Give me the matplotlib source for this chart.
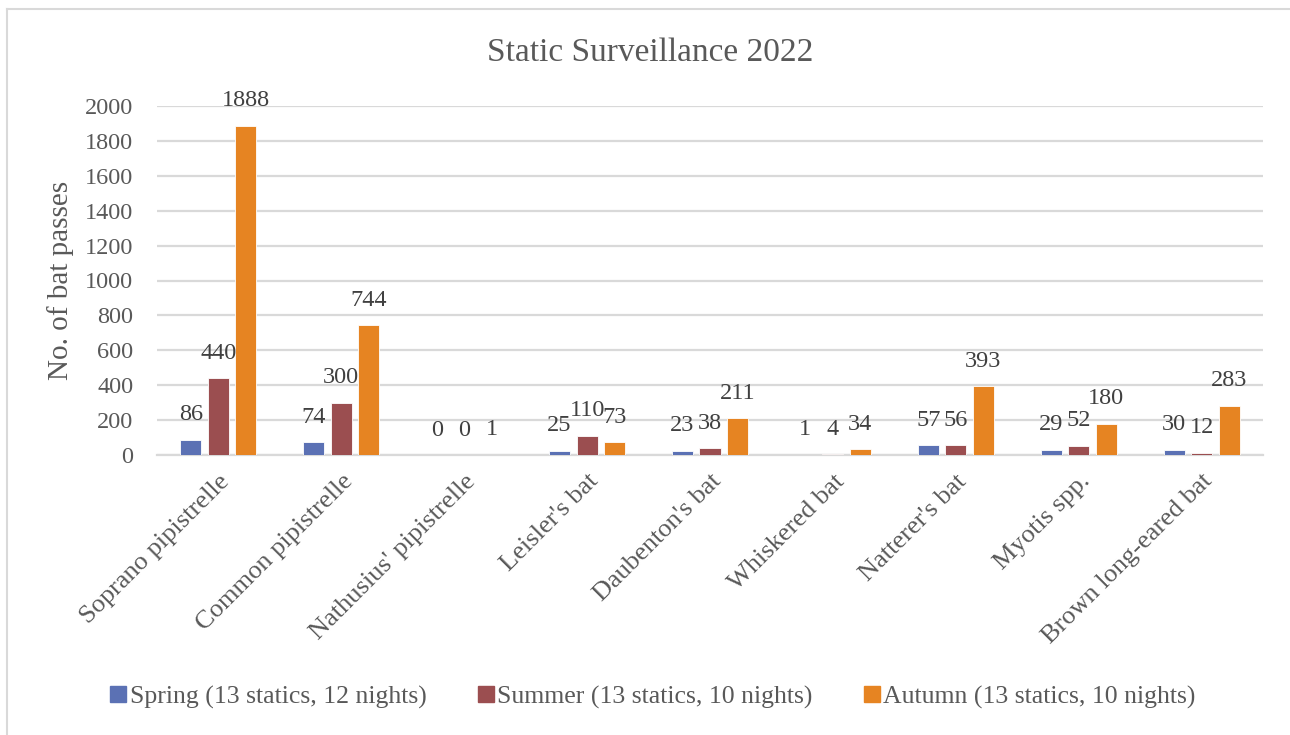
import matplotlib
matplotlib.use("Agg")
import matplotlib.pyplot as plt
from matplotlib.lines import Line2D
import numpy as np

species = ["Soprano pipistrelle", "Common pipistrelle", "Nathusius' pipistrelle",
           "Leisler's bat", "Daubenton's bat", "Whiskered bat", "Natterer's bat",
           "Myotis spp.", "Brown long-eared bat"]
spring = [86, 74, 0, 25, 23, 1, 57, 29, 30]
summer = [440, 300, 0, 110, 38, 4, 56, 52, 12]
autumn = [1888, 744, 1, 73, 211, 34, 393, 180, 283]
series_names = ["Spring (13 statics, 12 nights)",
                "Summer (13 statics, 10 nights)",
                "Autumn (13 statics, 10 nights)"]
y_ticks = list(range(0, 2001, 200))

colors = ["#5B71B4", "#9B4E50", "#E68422"]
text_color = "#595959"
grid_color = "#D9D9D9"
font = "Liberation Serif"

plt.rcParams["font.family"] = [font, "DejaVu Serif"]

fig = plt.figure(figsize=(12.9, 7.35), dpi=100)
ax = fig.add_axes([157 / 1290, 1 - 455 / 735, (1263 - 157) / 1290, (455 - 106) / 735])

x = np.arange(len(species))
bar_w = 0.171
step = 0.224
for k, (vals, col, name) in enumerate(zip([spring, summer, autumn], colors, series_names)):
    pos = x + (k - 1) * step
    ax.bar(pos, vals, width=bar_w, color=col, edgecolor="white", linewidth=0.6,
           label=name, zorder=3)
    for px, v in zip(pos, vals):
        ax.annotate(f"{v}", xy=(px, v), xytext=(0, 18), textcoords="offset points",
                    ha="center", va="center", fontsize=17.5, color="#404040", zorder=4)

ax.set_xlim(-0.5, len(species) - 0.5)
ax.set_ylim(0, 2000)
ax.set_yticks(y_ticks)
ax.set_yticklabels([str(t) for t in y_ticks])
ax.yaxis.grid(True, color=grid_color, linewidth=1.6, zorder=0)
ax.set_axisbelow(True)
for s in ["top", "right", "left"]:
    ax.spines[s].set_visible(False)
ax.spines["bottom"].set_color(grid_color)
ax.spines["bottom"].set_linewidth(1.6)
ax.tick_params(axis="y", length=0, pad=17, labelsize=17.5, labelcolor=text_color)
ax.tick_params(axis="x", length=0, pad=11, labelsize=19, labelcolor=text_color)
ax.set_xticks(x)
ax.set_xticklabels(species, rotation=45, ha="right", va="top",
                   rotation_mode="anchor")

ax.set_ylabel("No. of bat passes", fontsize=21, color=text_color)
ax.yaxis.set_label_coords(-0.075, 0.5)

fig.text(650 / 1290, 1 - 53 / 735, "Static Surveillance 2022", ha="center", va="center",
         fontsize=24, color=text_color)

handles = [Line2D([0], [0], marker="s", linestyle="none", markersize=11,
                  markerfacecolor=c, markeredgecolor=c) for c in colors]
fig.legend(handles, series_names, loc="center", bbox_to_anchor=(652 / 1290, 1 - 697 / 735),
           ncol=3, frameon=False, fontsize=18.5, labelcolor=text_color,
           handletextpad=0.05, columnspacing=1.9, handlelength=0.8)

# chart frame (clipped on right and bottom)
fig.add_artist(Line2D([7 / 1290, 7 / 1290], [0, 1 - 9 / 735], transform=fig.transFigure,
                      color=grid_color, linewidth=1.5))
fig.add_artist(Line2D([7 / 1290, 1], [1 - 9 / 735, 1 - 9 / 735], transform=fig.transFigure,
                      color=grid_color, linewidth=1.5))

fig.savefig("out.png", dpi=100, facecolor="white")
